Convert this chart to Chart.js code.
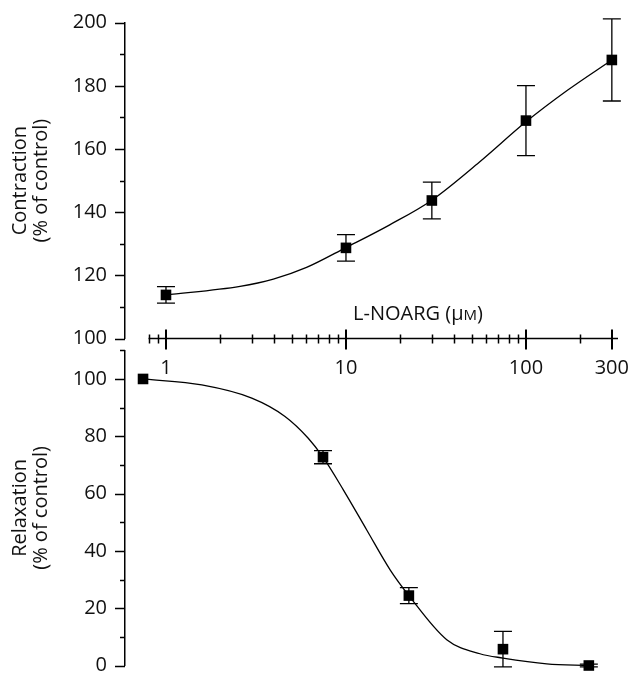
<!DOCTYPE html>
<html>
<head>
<meta charset="utf-8">
<script src="https://cdn.jsdelivr.net/npm/chart.js@4.4.1/dist/chart.umd.min.js"></script>
<style>
    html, body { margin: 0; padding: 0; background: #fff; }
    #wrap { position: relative; width: 630px; height: 673px; }
    #wrap canvas { position: absolute; left: 0; top: 0; }
</style>
</head>
<body>
<div id="wrap">
    <canvas id="chartContraction" width="630" height="673"></canvas>
    <canvas id="chartRelaxation" width="630" height="673"></canvas>
</div>
<script>
// L-NOARG concentrations (uM)
const dose = [1, 10, 30, 100, 300];

// Contraction (% of control), mean and error
const contraction = [113.8, 128.7, 143.7, 169.0, 188.2];
const contractionErr = [2.6, 4.2, 5.8, 11.1, 13.0];

// Relaxation (% of control), mean and error
const relaxation = [100, 72.7, 24.4, 5.7, 0];
const relaxationErr = [0, 2.3, 2.8, 6.2, 0.5];

// Fitted curves
const fitContractionX = [1, 2.58, 3.95, 6.04, 10, 17.5, 30, 55, 100, 170, 300];
const fitContractionY = [113.8, 116.5, 118.8, 122.5, 128.8, 136.0, 143.8, 155.8, 168.6, 178.6, 188.2];
const fitRelaxationX = [1, 2.12, 4.02, 6.15, 8.28, 10, 12.97, 17.5, 23.6, 30, 48.7, 74.5, 100, 175, 300];
const fitRelaxationY = [100, 97.9, 93.3, 86.9, 79.3, 72.7, 61.3, 47.3, 33.4, 24.4, 9.0, 4.1, 2.6, 0.6, 0];

// Axis ticks
const xTickLabels = [1, 10, 100, 300];
const xMinorTicks = [0.8, 0.9, 2, 3, 4, 5, 6, 7, 8, 9, 20, 30, 40, 50, 60, 70, 80, 90, 200];

const FONT = "'Open Sans', 'DejaVu Sans', sans-serif";
const INK = "#000";

function toPoints(xs, ys) {
    return xs.map((x, i) => ({ x: x, y: ys[i] }));
}

// error bars under the markers
const errorBars = {
    id: "errorBars",
    beforeDatasetsDraw(chart, args, opts) {
        const ctx = chart.ctx;
        const x = chart.scales.x, y = chart.scales.y;
        const pts = chart.data.datasets[0].data;
        ctx.save();
        ctx.strokeStyle = INK;
        ctx.lineWidth = 1.3;
        opts.errors.forEach((e, i) => {
            if (!e) return;
            const px = x.getPixelForValue(pts[i].x);
            const top = y.getPixelForValue(pts[i].y + e);
            const bot = y.getPixelForValue(pts[i].y - e);
            ctx.beginPath();
            ctx.moveTo(px, top); ctx.lineTo(px, bot);
            ctx.moveTo(px - 9, top); ctx.lineTo(px + 9, top);
            ctx.moveTo(px - 9, bot); ctx.lineTo(px + 9, bot);
            ctx.stroke();
        });
        ctx.restore();
    }
};

// y ticks every 10, longer every 20
const yTicks = {
    id: "yTicks",
    afterDraw(chart) {
        const ctx = chart.ctx;
        const y = chart.scales.y;
        const left = chart.chartArea.left;
        ctx.save();
        ctx.strokeStyle = INK;
        ctx.lineWidth = 1.5;
        ctx.beginPath();
        for (let v = y.min; v <= y.max + 0.01; v += 10) {
            const py = Math.round(y.getPixelForValue(v)) + 0.5;
            const len = (Math.round(v) % 20 === 0) ? 10 : 5;
            ctx.moveTo(left - len, py);
            ctx.lineTo(left, py);
        }
        ctx.stroke();
        ctx.restore();
    }
};

// log x axis crossing ticks and the concentration label
const xAxisLine = {
    id: "xAxisLine",
    afterDraw(chart) {
        const ctx = chart.ctx;
        const x = chart.scales.x;
        const base = chart.chartArea.bottom;
        ctx.save();
        ctx.strokeStyle = INK;
        ctx.lineWidth = 1.5;
        ctx.beginPath();
        ctx.moveTo(x.getPixelForValue(xMinorTicks[0]), base);
        ctx.lineTo(chart.chartArea.right - 2, base);
        ctx.stroke();

        ctx.beginPath();
        xMinorTicks.forEach(v => {
            const px = Math.round(x.getPixelForValue(v)) + 0.5;
            ctx.moveTo(px, base - 4); ctx.lineTo(px, base + 5);
        });
        ctx.stroke();
        ctx.lineWidth = 2;
        ctx.beginPath();
        xTickLabels.forEach(v => {
            const px = Math.round(x.getPixelForValue(v));
            ctx.moveTo(px, base - 9); ctx.lineTo(px, base + 11);
        });
        ctx.stroke();

        // "L-NOARG (μM)" with a small-cap M
        const big = "20px " + FONT, small = "15px " + FONT;
        const parts = [["L-NOARG (μ", big], ["M", small], [")", big]];
        let total = 0;
        parts.forEach(p => { ctx.font = p[1]; total += ctx.measureText(p[0]).width; });
        let cx = 418 - total / 2;
        ctx.fillStyle = "#111";
        ctx.textBaseline = "alphabetic";
        parts.forEach(p => {
            ctx.font = p[1];
            ctx.fillText(p[0], cx, base - 19);
            cx += ctx.measureText(p[0]).width;
        });
        ctx.restore();
    }
};

function yAxis(min, max, title) {
    return {
        type: "linear",
        min: min,
        max: max,
        afterFit: scale => {
            scale.width = 125;
            scale.paddingTop = 0;
            scale.paddingBottom = 0;
        },
        grid: { display: false, drawTicks: false },
        border: { display: true, color: INK, width: 1.5 },
        ticks: {
            stepSize: 10,
            padding: 18,
            color: "#111",
            font: { family: FONT, size: 20 },
            callback: v => (Math.round(v) % 20 === 0 ? v : null)
        },
        title: {
            display: true,
            text: title,
            color: "#111",
            font: { family: FONT, size: 20, lineHeight: 1.05 },
            padding: { top: 10, bottom: 0 }
        }
    };
}

function markerSet(xs, ys) {
    return {
        data: toPoints(xs, ys),
        showLine: false,
        pointStyle: "rect",
        pointRadius: 7.5,
        pointBackgroundColor: INK,
        pointBorderColor: INK,
        pointBorderWidth: 0,
        clip: false
    };
}

function fitSet(xs, ys) {
    return {
        data: toPoints(xs, ys),
        showLine: true,
        borderColor: INK,
        borderWidth: 1.3,
        pointRadius: 0,
        cubicInterpolationMode: "monotone",
        clip: false
    };
}

const common = {
    responsive: false,
    animation: false,
    events: [],
    plugins: { legend: { display: false }, tooltip: { enabled: false } }
};

document.addEventListener("DOMContentLoaded", function() {
    // top panel: contraction, carries the shared L-NOARG axis
    new Chart(document.getElementById("chartContraction").getContext("2d"), {
        type: "scatter",
        data: {
            datasets: [
                markerSet(dose, contraction),
                fitSet(fitContractionX, fitContractionY)
            ]
        },
        options: Object.assign({}, common, {
            layout: { padding: { top: 22.7, bottom: 294.5, left: 0, right: 10 } },
            plugins: Object.assign({}, common.plugins, { errorBars: { errors: contractionErr } }),
            scales: {
                x: {
                    type: "logarithmic",
                    min: 0.592,
                    max: 333,
                    afterFit: scale => {
                        scale.height = 40;
                        scale.paddingLeft = 0;
                        scale.paddingRight = 0;
                    },
                    afterBuildTicks: scale => { scale.ticks = xTickLabels.map(v => ({ value: v })); },
                    grid: { display: false, drawTicks: false },
                    border: { display: false },
                    ticks: {
                        padding: 18,
                        autoSkip: false,
                        maxRotation: 0,
                        color: "#111",
                        font: { family: FONT, size: 20 },
                        callback: v => String(v)
                    }
                },
                y: yAxis(100, 200, ["Contraction", "(% of control)"])
            }
        }),
        plugins: [errorBars, yTicks, xAxisLine]
    });

    // bottom panel: relaxation
    new Chart(document.getElementById("chartRelaxation").getContext("2d"), {
        type: "scatter",
        data: {
            datasets: [
                markerSet(dose, relaxation),
                fitSet(fitRelaxationX, fitRelaxationY)
            ]
        },
        options: Object.assign({}, common, {
            layout: { padding: { top: 350.3, bottom: 7.3, left: 0, right: 10 } },
            plugins: Object.assign({}, common.plugins, { errorBars: { errors: relaxationErr } }),
            scales: {
                x: { type: "logarithmic", min: 0.794, max: 447, display: false },
                y: yAxis(0, 110, ["Relaxation", "(% of control)"])
            }
        }),
        plugins: [errorBars, yTicks]
    });
});
</script>
</body>
</html>
